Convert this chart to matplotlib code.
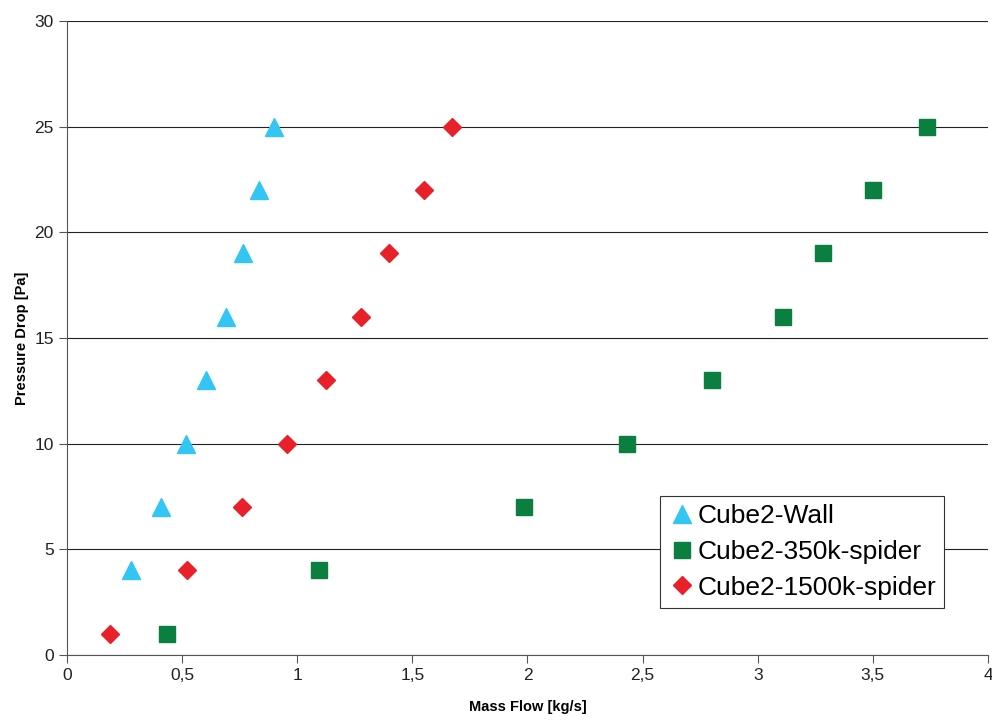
import matplotlib.pyplot as plt
from matplotlib.ticker import FuncFormatter

plt.rcParams['font.family'] = ['Liberation Sans', 'DejaVu Sans']

# pressure drop levels [Pa]
p_wall = [4, 7, 10, 13, 16, 19, 22, 25]
m_wall = [0.278, 0.408, 0.517, 0.604, 0.691, 0.764, 0.834, 0.899]

p_350k = [1, 4, 7, 10, 13, 16, 19, 22, 25]
m_350k = [0.434, 1.094, 1.985, 2.432, 2.801, 3.110, 3.283, 3.500, 3.735]

p_1500k = [1, 4, 7, 10, 13, 16, 19, 22, 25]
m_1500k = [0.187, 0.521, 0.760, 0.955, 1.125, 1.277, 1.398, 1.550, 1.672]

fig = plt.figure(figsize=(9.92, 7.2), dpi=100)
ax = fig.add_axes([0.0675, 0.0903, 0.9285, 0.8805])

ax.plot(m_wall, p_wall, linestyle='none', marker='^', markersize=13, color='#33c5f3', label='Cube2-Wall')
ax.plot(m_350k, p_350k, linestyle='none', marker='s', markersize=12, color='#0a7f40', label='Cube2-350k-spider')
ax.plot(m_1500k, p_1500k, linestyle='none', marker='D', markersize=9.5, color='#e8202a', label='Cube2-1500k-spider')

ax.set_xlim(0, 4)
ax.set_ylim(0, 30)
ax.set_xticks([0, 0.5, 1, 1.5, 2, 2.5, 3, 3.5, 4])
ax.set_yticks(range(0, 31, 5))
ax.xaxis.set_major_formatter(FuncFormatter(lambda v, p: ('%g' % v).replace('.', ',')))
ax.yaxis.grid(True, color='#222222', linewidth=0.8)
ax.set_axisbelow(True)
ax.spines['top'].set_visible(False)
ax.spines['right'].set_visible(False)
ax.spines['left'].set_color('#555555')
ax.spines['bottom'].set_color('#555555')
ax.tick_params(direction='out', length=6, width=0.8, color='#555555', labelsize=12.5, labelcolor='#222222')

ax.set_xlabel('Mass Flow [kg/s]', fontsize=10.5, fontweight='bold', labelpad=12)
ax.set_ylabel('Pressure Drop [Pa]', fontsize=10.5, fontweight='bold', labelpad=4)

leg = ax.legend(loc='lower left', bbox_to_anchor=(0.629, 0.054), fontsize=19, frameon=True, fancybox=False,
                edgecolor='#333333', framealpha=1, handletextpad=0.05, borderpad=0.3, labelspacing=0.45,
                handlelength=1.1, markerscale=1.0)
leg.get_frame().set_linewidth(0.8)

plt.savefig('out.png', dpi=100)
